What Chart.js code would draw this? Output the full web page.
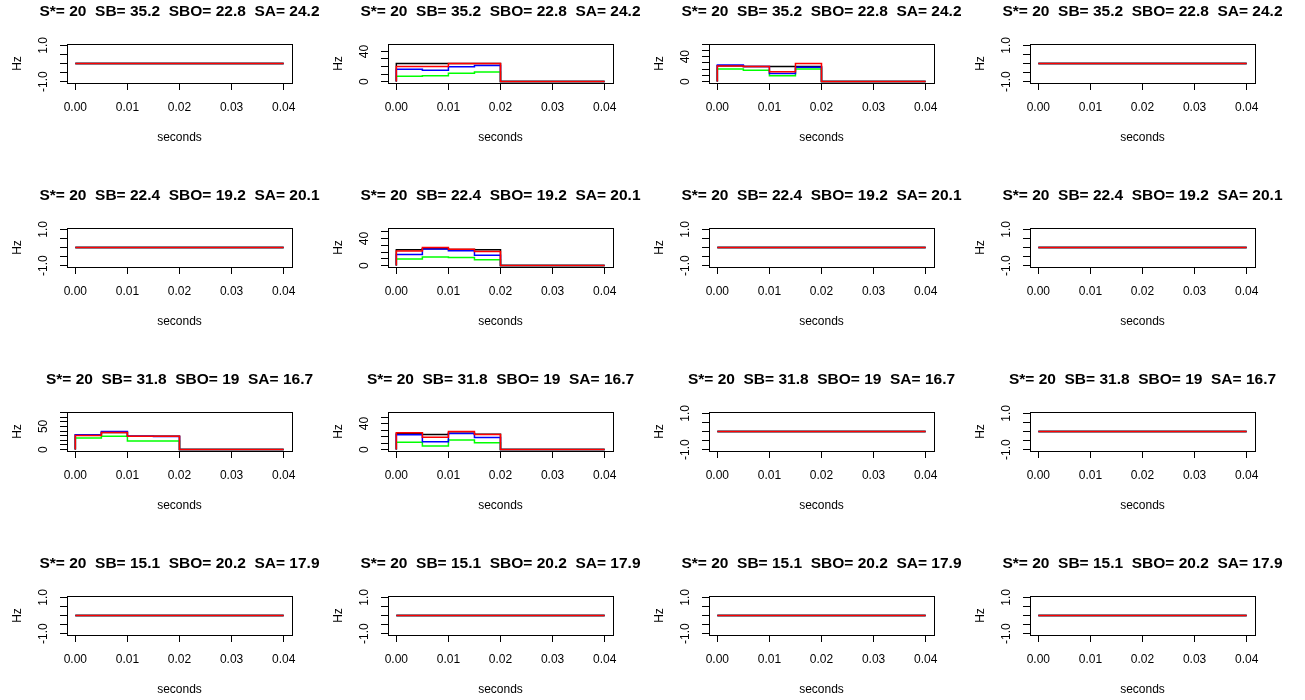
<!DOCTYPE html>
<html>
<head>
<meta charset="utf-8">
<script src="https://cdn.jsdelivr.net/npm/chart.js@4/dist/chart.umd.min.js"></script>
<style>
    html, body { margin: 0; padding: 0; background: #fff; }
    #grid { position: relative; width: 1305px; height: 700px; }
    .cell { position: absolute; width: 321px; height: 184px; }
</style>
</head>
<body>
<div id="grid"></div>
<script>
// step times (leading 0 so each trace rises from zero at t = 0)
const binTimes = [0, 0, 0.005, 0.01, 0.015, 0.02, 0.025, 0.03, 0.035, 0.04];
const xTickValues = [0, 0.01, 0.02, 0.03, 0.04];
const rowTitles = [
    'S*= 20  SB= 35.2  SBO= 22.8  SA= 24.2',
    'S*= 20  SB= 22.4  SBO= 19.2  SA= 20.1',
    'S*= 20  SB= 31.8  SBO= 19  SA= 16.7',
    'S*= 20  SB= 15.1  SBO= 20.2  SA= 17.9',
];
const seriesColors = ['#000000', '#00ff00', '#0000ff', '#ff0000'];

// firing rates (Hz): black, green, blue, red
const flatRates = [0, 0, 0, 0, 0, 0, 0, 0, 0, 0];
const ratesR1C2 = [
    [0, 24, 24, 24, 24, 0, 0, 0, 0, 0],
    [0, 7, 7.6, 11, 12.7, 0, 0, 0, 0, 0],
    [0, 16.5, 15, 19.6, 21.3, 0, 0, 0, 0, 0],
    [0, 20, 20, 24, 24, 0, 0, 0, 0, 0],
];
const ratesR1C3 = [
    [0, 25.5, 24, 24, 24, 0, 0, 0, 0, 0],
    [0, 20, 18, 9.5, 20, 0, 0, 0, 0, 0],
    [0, 26.5, 24, 13, 23, 0, 0, 0, 0, 0],
    [0, 25, 24, 15.7, 29, 0, 0, 0, 0, 0],
];
const ratesR2C2 = [
    [0, 23.5, 25, 24, 23.5, 0, 0, 0, 0, 0],
    [0, 9.7, 12.6, 12.1, 8.8, 0, 0, 0, 0, 0],
    [0, 16.4, 24.4, 22.1, 15.4, 0, 0, 0, 0, 0],
    [0, 21.5, 26.8, 24.2, 21, 0, 0, 0, 0, 0],
];
const ratesR3C1 = [
    [0, 31.5, 37, 28.5, 28.5, 0, 0, 0, 0, 0],
    [0, 25, 28.5, 18.5, 18.5, 0, 0, 0, 0, 0],
    [0, 32, 39, 28.5, 28, 0, 0, 0, 0, 0],
    [0, 30.5, 37, 28.5, 28.5, 0, 0, 0, 0, 0],
];
const ratesR3C2 = [
    [0, 24.6, 23, 25, 23.5, 0, 0, 0, 0, 0],
    [0, 11.4, 5.5, 14.7, 10.3, 0, 0, 0, 0, 0],
    [0, 22.8, 11.9, 24.8, 18.7, 0, 0, 0, 0, 0],
    [0, 25.8, 19, 27.8, 23, 0, 0, 0, 0, 0],
];
const flatPanel = [flatRates, flatRates, flatRates, flatRates];

const panelLayout = [
    [flatPanel, ratesR1C2, ratesR1C3, flatPanel],
    [flatPanel, ratesR2C2, flatPanel, flatPanel],
    [ratesR3C1, ratesR3C2, flatPanel, flatPanel],
    [flatPanel, flatPanel, flatPanel, flatPanel],
];
// labelled y ticks (R drops the ones that would overlap)
const yLabelLayout = [
    [[-1, 1], [0, 40], [0, 40], [-1, 1]],
    [[-1, 1], [0, 40], [-1, 1], [-1, 1]],
    [[0, 50], [0, 40], [-1, 1], [-1, 1]],
    [[-1, 1], [-1, 1], [-1, 1], [-1, 1]],
];

const FONT = '"Liberation Sans", Arial, Helvetica, sans-serif';
Chart.defaults.font.family = FONT;
Chart.defaults.color = '#000';

/**
 * R-style frame, rotated y labels and bold panel title
 */
const rFrame = {
    id: 'rFrame',
    afterDraw(chart, args, opts) {
        const { ctx, chartArea: a } = chart;
        const y = chart.scales.y;
        ctx.save();
        ctx.strokeStyle = '#000';
        ctx.lineWidth = 1;
        ctx.strokeRect(Math.round(a.left) + 0.5, Math.round(a.top) + 0.5,
            Math.round(a.right - a.left), Math.round(a.bottom - a.top));

        ctx.fillStyle = '#000';
        ctx.textAlign = 'center';
        ctx.textBaseline = 'middle';
        ctx.font = '12px ' + FONT;
        opts.labels.forEach(v => {
            ctx.save();
            ctx.translate(a.left - 23, y.getPixelForValue(v));
            ctx.rotate(-Math.PI / 2);
            ctx.fillText(opts.flat ? v.toFixed(1) : String(v), 0, 0);
            ctx.restore();
        });

        ctx.font = 'bold 15.5px ' + FONT;
        ctx.fillText(opts.title, (a.left + a.right) / 2, 12);
        ctx.restore();
    },
};

function makePanel(row, col) {
    const rates = panelLayout[row][col];
    const flat = rates === flatPanel;
    const peak = Math.max(...rates.flat());
    const lo = flat ? -1 : 0;
    const hi = flat ? 1 : 2 * peak;
    const pad = 0.04 * (hi - lo);
    const yTicks = [];
    if (flat) {
        yTicks.push(-1, -0.5, 0, 0.5, 1);
    } else {
        for (let v = 0; v <= hi + pad; v += 10) yTicks.push(v);
    }

    const cell = document.createElement('div');
    cell.className = 'cell';
    cell.style.left = (col * 321) + 'px';
    cell.style.top = (row * 184) + 'px';
    const canvas = document.createElement('canvas');
    cell.appendChild(canvas);
    document.getElementById('grid').appendChild(cell);

    const tickGrid = {
        display: true,
        drawOnChartArea: false,
        drawTicks: true,
        tickLength: 7,
        color: '#000',
        lineWidth: 1,
    };

    new Chart(canvas, {
        type: 'line',
        data: {
            // red drawn last (on top), black first
            datasets: rates.map((vals, i) => ({
                data: vals.map((v, k) => ({ x: binTimes[k], y: v })),
                borderColor: seriesColors[i],
                borderWidth: 1.5,
                stepped: 'before',
                pointRadius: 0,
                fill: false,
                order: rates.length - 1 - i,
            })),
        },
        options: {
            responsive: true,
            maintainAspectRatio: false,
            animation: false,
            layout: { padding: { top: 44, right: 29, left: 0, bottom: 0 } },
            plugins: {
                legend: { display: false },
                tooltip: { enabled: false },
                rFrame: { title: rowTitles[row], labels: yLabelLayout[row][col], flat },
            },
            scales: {
                x: {
                    type: 'linear',
                    min: -0.0016,
                    max: 0.0416,
                    afterBuildTicks: s => { s.ticks = xTickValues.map(v => ({ value: v })); },
                    afterFit: s => { s.height = 101; },
                    ticks: {
                        autoSkip: false,
                        maxRotation: 0,
                        padding: 10,
                        font: { size: 12 },
                        callback: v => v.toFixed(2),
                    },
                    grid: tickGrid,
                    border: { display: false },
                    title: {
                        display: true,
                        text: 'seconds',
                        font: { size: 12 },
                        padding: { top: 0, bottom: 39 },
                    },
                },
                y: {
                    type: 'linear',
                    min: lo - pad,
                    max: hi + pad,
                    afterBuildTicks: s => { s.ticks = yTicks.map(v => ({ value: v })); },
                    afterFit: s => { s.width = 67; },
                    ticks: { display: false },
                    grid: tickGrid,
                    border: { display: false },
                    title: {
                        display: true,
                        text: 'Hz',
                        font: { size: 12 },
                        padding: { top: 10, bottom: 0 },
                    },
                },
            },
        },
        plugins: [rFrame],
    });
}

for (let r = 0; r < 4; r++) {
    for (let c = 0; c < 4; c++) makePanel(r, c);
}
</script>
</body>
</html>
